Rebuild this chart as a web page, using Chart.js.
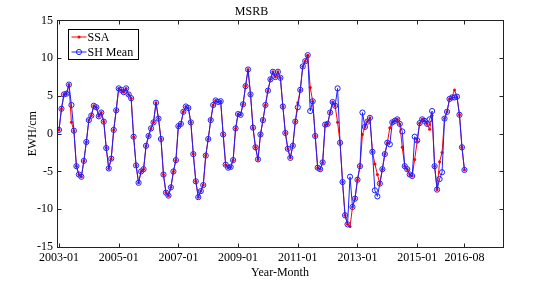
<!DOCTYPE html>
<html>
<head>
<meta charset="utf-8">
<script src="https://cdn.jsdelivr.net/npm/chart.js@4.4.1/dist/chart.umd.min.js"></script>
<style>
  body { margin: 0; background: #fff; }
</style>
</head>
<body>
<canvas id="graficoMSRB" width="551" height="283"></canvas>
<script>
// EWH mensual (cm), 2003-01 a 2016-08 (164 meses)
var ssa = [
  0.5, 3.3, 5.2, 5.3, 6.5, 1.5, 0.4, -4.3, -5.4, -5.7,
  -3.6, -1.1, 1.8, 2.4, 3.7, 3.5, 2.3, 2.8, 1.6, -1.9,
  -4.6, -3.3, 0.5, 3.1, 6.0, 5.8, 5.5, 6.0, 5.2, 4.7,
  -0.4, -4.2, -6.5, -5.0, -4.7, -1.6, -0.3, 0.7, 1.5, 4.1,
  2.0, -0.7, -5.4, -7.8, -8.2, -7.1, -5.0, -3.5, 1.0, 1.3,
  2.9, 3.6, 3.4, 1.5, -2.7, -6.3, -8.4, -7.6, -6.8, -2.9,
  -0.7, 1.8, 3.8, 4.4, 4.2, 4.3, -0.1, -4.1, -4.5, -4.4,
  -3.5, 0.7, 2.6, 2.5, 3.9, 6.3, 8.5, 5.2, 0.8, -1.8,
  -3.4, -0.1, 1.8, 3.8, 5.7, 7.2, 8.2, 7.5, 8.2, 7.4,
  3.6, 0.1, -2.0, -3.2, -1.6, 1.6, 4.1, 5.8, 8.9, 9.6,
  10.4, 6.1, 4.3, -0.3, -4.5, -4.7, -3.8, 1.2, 1.3, 2.8,
  4.2, 3.7, 1.5, -1.2, -6.4, -10.8, -12.0, -12.3, -9.7, -8.6,
  -6.1, -4.3, -0.1, 0.9, 1.6, 2.1, -2.4, -4.0, -5.4, -6.6,
  -4.7, -2.7, -1.2, 0.8, 1.5, 1.7, 1.9, 1.3, -1.8, -4.3,
  -4.7, -5.4, -5.6, -3.4, -1.0, 1.4, 1.9, 1.7, 1.3, 0.6,
  2.4, -4.3, -7.4, -3.7, -2.5, 2.0, 2.9, 4.6, 4.8, 5.8,
  4.9, 2.5, -1.8, -4.8
];
var shMean = [
  0.5, 3.3, 5.2, 5.3, 6.5, 3.8, 0.4, -4.3, -5.4, -5.7,
  -3.6, -1.1, 1.8, 2.4, 3.7, 3.5, 2.3, 2.8, 1.6, -1.9,
  -4.6, -3.3, 0.5, 3.1, 6.0, 5.8, 5.5, 6.0, 5.2, 4.7,
  -0.4, -4.2, -6.5, -5.0, -4.7, -1.6, -0.3, 0.7, 1.5, 4.1,
  2.0, -0.7, -5.4, -7.8, -8.2, -7.1, -5.0, -3.5, 1.0, 1.3,
  2.9, 3.6, 3.4, 1.5, -2.7, -6.3, -8.4, -7.6, -6.8, -2.9,
  -0.7, 1.8, 3.8, 4.4, 4.2, 4.3, -0.1, -4.1, -4.5, -4.4,
  -3.5, 0.7, 2.6, 2.5, 3.9, 6.3, 8.5, 5.2, 0.8, -1.8,
  -3.4, -0.1, 1.8, 3.8, 5.7, 7.2, 8.2, 7.5, 8.2, 7.4,
  3.6, 0.1, -2.0, -3.2, -1.6, 1.6, 3.5, 5.8, 8.9, 9.6,
  10.4, 3.0, 4.3, -0.3, -4.5, -4.7, -3.8, 1.2, 1.3, 2.8,
  4.2, 3.7, 6.0, -1.2, -6.4, -10.8, -12.0, -5.7, -9.7, -8.6,
  -6.1, -4.3, 2.8, 0.9, 1.6, 2.1, -2.4, -7.5, -8.3, -6.6,
  -4.7, -2.7, -1.2, -1.4, 1.5, 1.7, 1.9, 1.3, 0.3, -4.3,
  -4.7, -5.4, -5.6, -0.4, -0.9, 1.4, 1.9, 1.7, 1.3, 1.9,
  3.0, -4.3, -7.4, -6.0, -5.1, 2.0, 2.9, 4.6, 4.8, 4.8,
  4.9, 2.5, -1.8, -4.8
];
// marcas del eje x (indice de mes desde 2003-01) y sus etiquetas
var ticksMes = [0, 24, 48, 72, 96, 120, 144, 163];
var etiquetasMes = ['2003-01', '2005-01', '2007-01', '2009-01', '2011-01', '2013-01', '2015-01', '2016-08'];
var ticksEwh = [-15, -10, -5, 0, 5, 10, 15];

var fuente = 'Liberation Serif, Times New Roman, serif';
var rojo = 'rgb(255,0,0)';
var azul = 'rgb(30,30,255)';

function aPuntos(serie) {
  return serie.map(function (v, i) { return { x: i, y: v }; });
}

// marco negro, marcas hacia dentro y leyenda en recuadro (estilo matlab)
var marcoEjes = {
  id: 'marcoEjes',
  afterDatasetsDraw: function (chart) {
    var ctx = chart.ctx;
    var a = chart.chartArea;
    var sx = chart.scales.x;
    var sy = chart.scales.y;
    var L = Math.round(a.left) + 0.5, R = Math.round(a.right) + 0.5;
    var T = Math.round(a.top) + 0.5, B = Math.round(a.bottom) + 0.5;
    ctx.save();
    ctx.strokeStyle = '#222';
    ctx.lineWidth = 1;
    ctx.strokeRect(L, T, R - L, B - T);
    ctx.beginPath();
    ticksMes.forEach(function (m) {
      var px = Math.round(sx.getPixelForValue(m)) + 0.5;
      ctx.moveTo(px, B); ctx.lineTo(px, B - 4);
      ctx.moveTo(px, T); ctx.lineTo(px, T + 4);
    });
    ticksEwh.forEach(function (v) {
      var py = Math.round(sy.getPixelForValue(v)) + 0.5;
      ctx.moveTo(L, py); ctx.lineTo(L + 4, py);
      ctx.moveTo(R, py); ctx.lineTo(R - 4, py);
    });
    ctx.stroke();

    // leyenda
    var lx = L + 11, ly = T + 9, lw = 70, lh = 30;
    ctx.fillStyle = '#fff';
    ctx.fillRect(lx, ly, lw, lh);
    ctx.strokeStyle = '#000';
    ctx.strokeRect(lx, ly, lw, lh);
    ctx.font = '12px ' + fuente;
    ctx.textBaseline = 'middle';
    chart.data.datasets.slice().sort(function (p, q) { return q.order - p.order; }).forEach(function (ds, k) {
      var yy = ly + 7.5 + k * 15;
      ctx.strokeStyle = ds.borderColor;
      ctx.lineWidth = 1;
      ctx.beginPath();
      ctx.moveTo(lx + 3, yy); ctx.lineTo(lx + 18, yy);
      ctx.stroke();
      ctx.beginPath();
      ctx.arc(lx + 10.5, yy, ds.pointRadius, 0, Math.PI * 2);
      if (ds.pointBackgroundColor !== 'transparent') {
        ctx.fillStyle = ds.pointBackgroundColor;
        ctx.fill();
      } else {
        ctx.stroke();
      }
      ctx.fillStyle = '#000';
      ctx.fillText(ds.label, lx + 19, yy + 0.5);
    });
    ctx.restore();
  }
};

var ctxMSRB = document.getElementById('graficoMSRB').getContext('2d');
new Chart(ctxMSRB, {
  type: 'line',
  data: {
    datasets: [{
      label: 'SSA',
      data: aPuntos(ssa),
      borderColor: rojo,
      backgroundColor: rojo,
      pointBackgroundColor: rojo,
      pointBorderColor: rojo,
      pointRadius: 1.5,
      pointBorderWidth: 0,
      borderWidth: 1,
      tension: 0,
      order: 2
    }, {
      label: 'SH Mean',
      data: aPuntos(shMean),
      borderColor: azul,
      backgroundColor: 'transparent',
      pointBackgroundColor: 'transparent',
      pointBorderColor: azul,
      pointRadius: 2.6,
      pointBorderWidth: 1,
      borderWidth: 1,
      tension: 0,
      order: 1
    }]
  },
  options: {
    responsive: false,
    animation: false,
    devicePixelRatio: 1,
    layout: { padding: { left: 0, right: 48, top: 0, bottom: 0 } },
    plugins: {
      legend: { display: false },
      tooltip: { enabled: false },
      title: {
        display: true,
        text: 'MSRB',
        color: '#000',
        font: { family: fuente, size: 12, weight: 'normal' },
        padding: { top: 5, bottom: 1 }
      }
    },
    scales: {
      x: {
        type: 'linear',
        min: -0.8,
        max: 178.5,
        afterFit: function (s) { s.height = 36; },
        afterBuildTicks: function (s) {
          s.ticks = ticksMes.map(function (m) { return { value: m }; });
        },
        grid: { display: false, drawTicks: false },
        border: { display: false },
        ticks: {
          autoSkip: false,
          maxRotation: 0,
          padding: 4,
          color: '#000',
          font: { family: fuente, size: 12 },
          callback: function (v) {
            var i = ticksMes.indexOf(v);
            return i >= 0 ? etiquetasMes[i] : '';
          }
        },
        title: {
          display: true,
          text: 'Year-Month',
          color: '#000',
          font: { family: fuente, size: 12 },
          padding: { top: 0, bottom: 3 }
        }
      },
      y: {
        min: -15,
        max: 15,
        afterFit: function (s) { s.width = 57; },
        afterBuildTicks: function (s) {
          s.ticks = ticksEwh.map(function (v) { return { value: v }; });
        },
        grid: { display: false, drawTicks: false },
        border: { display: false },
        ticks: {
          padding: 4,
          color: '#000',
          font: { family: fuente, size: 12 },
          callback: function (v) { return String(v); }
        },
        title: {
          display: true,
          text: 'EWH/cm',
          color: '#000',
          font: { family: fuente, size: 12 },
          padding: { top: 26, bottom: 0 }
        }
      }
    }
  },
  plugins: [marcoEjes]
});
</script>
</body>
</html>
